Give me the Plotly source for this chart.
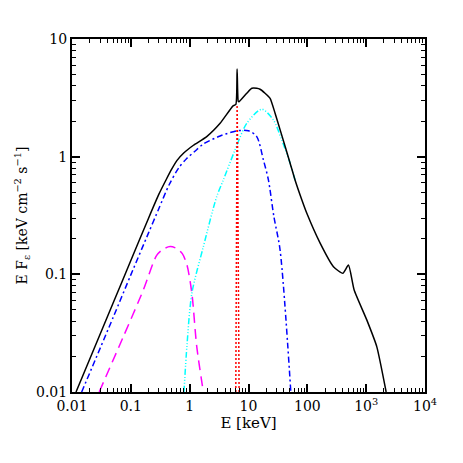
import plotly.graph_objects as go

# ----- data (E in keV, E*F_E in keV cm^-2 s^-1) -----
total_E = [0.0117, 0.05, 0.1, 0.2, 0.3, 0.4, 0.5, 0.61, 0.8, 1.16, 1.95, 3.29,
           5.47, 6.1, 6.4, 6.7, 6.9, 9.35, 11.4, 13.8, 15.7, 19.1, 23.3, 28.3, 34.5,
           51, 62, 80.5, 98, 165, 278, 401, 500, 625, 1024, 1514, 2186]
total_F = [0.01, 0.057, 0.131, 0.30, 0.48, 0.64, 0.79, 0.93, 1.08, 1.25, 1.48, 1.92,
           2.7, 2.78, 5.56, 2.95, 2.93, 3.46, 3.81, 3.81, 3.74, 3.46, 3.13, 2.34, 1.69,
           0.88, 0.63, 0.43, 0.33, 0.184, 0.116, 0.102, 0.12, 0.0736, 0.041, 0.0243, 0.01]

disk_E = [0.0146, 0.05, 0.1, 0.2, 0.3, 0.45, 0.65, 0.9, 1.2, 1.71, 3.29, 5.5,
          6.32, 10, 13.8, 17.9, 21.8, 27, 34.4, 52.4]
disk_F = [0.01, 0.043, 0.099, 0.225, 0.363, 0.58, 0.80, 0.97, 1.10, 1.28, 1.50, 1.63,
          1.66, 1.66, 1.48, 0.94, 0.634, 0.31, 0.161, 0.01]

soft_E = [0.029, 0.0747, 0.163, 0.275, 0.35, 0.465, 0.6, 0.75, 0.9, 1.09, 1.32, 1.71]
soft_F = [0.01, 0.0296, 0.0736, 0.145, 0.163, 0.172, 0.166, 0.15, 0.12, 0.069, 0.0243, 0.01]

hard_E = [0.80, 0.9, 1.09, 1.71, 2.88, 3.74, 5.9, 9.35, 16.8, 26.5, 36.7, 51, 62]
hard_F = [0.01, 0.025, 0.069, 0.172, 0.457, 0.634, 1.14, 1.92, 2.53, 2.05, 1.39, 0.88, 0.63]

line_E = [6.08, 6.2, 6.3, 6.4, 6.5, 6.65, 6.92]
line_F = [0.01, 0.3, 1.5, 2.75, 1.5, 0.3, 0.01]

x_tickvals = [0.01, 0.1, 1, 10, 100, 1000, 10000]
x_ticktext = ["0.01", "0.1", "1", "10", "100", "10<sup>3</sup>", "10<sup>4</sup>"]
y_tickvals = [0.01, 0.1, 1, 10]
y_ticktext = ["0.01", "0.1", "1", "10"]

FONT = "DejaVu Serif"

fig = go.Figure()

# soft component (magenta long dashes)
fig.add_trace(go.Scatter(x=soft_E, y=soft_F, mode="lines",
                         line=dict(color="#ff00ff", width=1.5, dash="10px,6px",
                                   shape="spline", smoothing=0.8)))
# hard component (cyan dash-dot-dot-dot)
fig.add_trace(go.Scatter(x=hard_E, y=hard_F, mode="lines",
                         line=dict(color="#00ffff", width=1.5,
                                   dash="6px,2px,1px,2px,1px,2px,1px,2px",
                                   shape="spline", smoothing=0.8)))
# disc component (blue dash-dot)
fig.add_trace(go.Scatter(x=disk_E, y=disk_F, mode="lines",
                         line=dict(color="#0000ff", width=1.5, dash="6px,3px,2px,3px",
                                   shape="spline", smoothing=0.8)))
# iron line (red dotted)
fig.add_trace(go.Scatter(x=line_E, y=line_F, mode="lines",
                         line=dict(color="#ff0000", width=1.5, dash="2px,2px")))
# total
fig.add_trace(go.Scatter(x=total_E, y=total_F, mode="lines",
                         line=dict(color="black", width=1.5,
                                   shape="spline", smoothing=0.5)))

axis_common = dict(
    type="log",
    automargin=False,
    showgrid=False,
    zeroline=False,
    showline=True,
    linecolor="black",
    linewidth=2,
    mirror="allticks",
    ticks="inside",
    ticklen=8,
    tickwidth=1.5,
    tickcolor="black",
    tickmode="array",
    tickfont=dict(family=FONT, size=14, color="black"),
    minor=dict(ticks="inside", ticklen=4, tickwidth=1, tickcolor="black",
               dtick="D1", showgrid=False),
)

fig.update_xaxes(axis_common, range=[-2, 4], tickvals=x_tickvals, ticktext=x_ticktext,
                 title=dict(text="E [keV]", font=dict(family=FONT, size=15, color="black"),
                            standoff=4))
fig.update_yaxes(axis_common, range=[-2, 1], tickvals=y_tickvals, ticktext=y_ticktext,
                 title=dict(text="E F<sub>ε</sub> [keV cm<sup>−2</sup> s<sup>−1</sup>]",
                            font=dict(family=FONT, size=14, color="black"),
                            standoff=5))

# the page body adds an 8px offset, so the figure is trimmed to fit the window
fig.update_layout(
    width=447,
    height=447,
    margin=dict(l=64, r=30, t=31, b=63),
    plot_bgcolor="white",
    paper_bgcolor="white",
    showlegend=False,
)

fig.write_html("out.html")
